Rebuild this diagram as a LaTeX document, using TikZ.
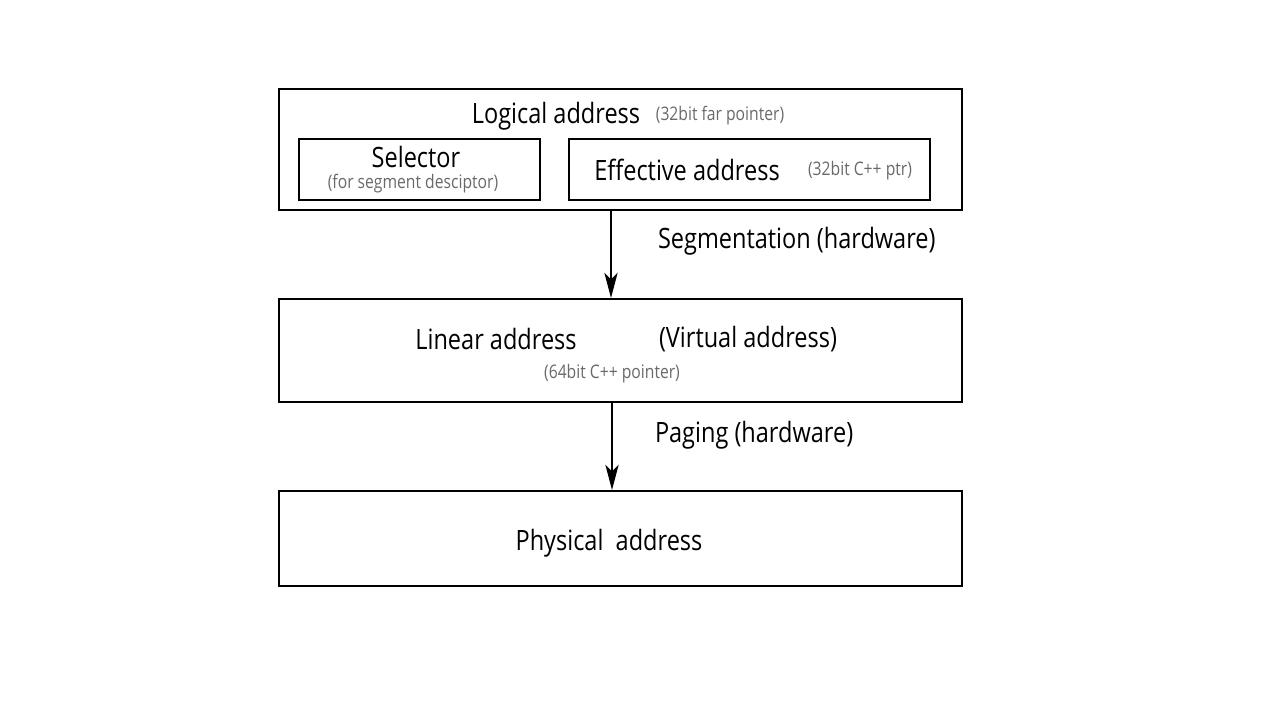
\documentclass[tikz,border=0pt]{standalone}
\usepackage{fontspec}
\setmainfont{Open Sans}[FakeStretch=0.84]
\usetikzlibrary{arrows.meta}

\tikzset{every picture/.style={line width=1.5pt}}
\tikzset{
  addrbox/.style={draw, line width=1.6pt, inner sep=0pt, anchor=north west},
  mainlbl/.style={inner sep=0.75pt, font=\fontsize{21}{24}\selectfont},
  notelbl/.style={inner sep=0.75pt, text={rgb,255:red,105;green,105;blue,105}, font=\fontsize{14}{16}\selectfont},
  flow/.style={-{Stealth[length=19pt,width=10pt,inset=5pt]}, line width=1.4pt}
}

\begin{document}
\begin{tikzpicture}[x=0.75pt,y=0.75pt,yscale=-1,xscale=1]
            \useasboundingbox (0,0) rectangle (1280,720);

            %Shape: Rectangle [logical]
            \node [addrbox, minimum width=683*0.75pt, minimum height=121*0.75pt] (logical) at (278,88) {};
            %Shape: Rectangle [selector]
            \node [addrbox, minimum width=241*0.75pt, minimum height=61*0.75pt] (selector) at (298,138) {};
            %Shape: Rectangle [effective]
            \node [addrbox, minimum width=361*0.75pt, minimum height=61*0.75pt] (effective) at (568,138) {};
            %Shape: Rectangle [linear]
            \node [addrbox, minimum width=683*0.75pt, minimum height=103*0.75pt] (linear) at (278,298) {};
            %Shape: Rectangle [physical]
            \node [addrbox, minimum width=683*0.75pt, minimum height=95*0.75pt] (physical) at (278,490) {};

            %Straight Lines
            \coordinate (segtop) at (611,209);
            \coordinate (segbot) at (611,298);
            \draw [flow] (segtop) -- (segbot);
            %Straight Lines
            \coordinate (pagtop) at (612,401);
            \coordinate (pagbot) at (612,490);
            \draw [flow] (pagtop) -- (pagbot);

            % Text Node
            \node [mainlbl] (logicaltxt) at (556,116) {Logical address};
            % Text Node
            \node [notelbl] (logicalnote) at (720,116) {(32bit far pointer)};
            % Text Node
            \node [mainlbl] (selectortxt) at (416,157) {Selector};
            % Text Node
            \node [notelbl] (selectornote) at (413,184) {(for segment desciptor)};
            % Text Node
            \node [mainlbl] (effectivetxt) at (687,170) {Effective address};
            % Text Node
            \node [notelbl] (effectivenote) at (860,171) {(32bit C++ ptr)};
            % Text Node
            \node [mainlbl, anchor=west] (segtxt) at (656,241) {Segmentation (hardware)};
            % Text Node
            \node [mainlbl] (lineartxt) at (496,339) {Linear address};
            % Text Node
            \node [mainlbl] (virtualtxt) at (748,339) {(Virtual address)};
            % Text Node
            \node [notelbl] (linearnote) at (612,374) {(64bit C++ pointer)};
            % Text Node
            \node [mainlbl, anchor=west] (pagtxt) at (653,435) {Paging (hardware)};
            % Text Node
            \node [mainlbl] (physicaltxt) at (609,543) {Physical\ \ address};

\end{tikzpicture}
\end{document}
